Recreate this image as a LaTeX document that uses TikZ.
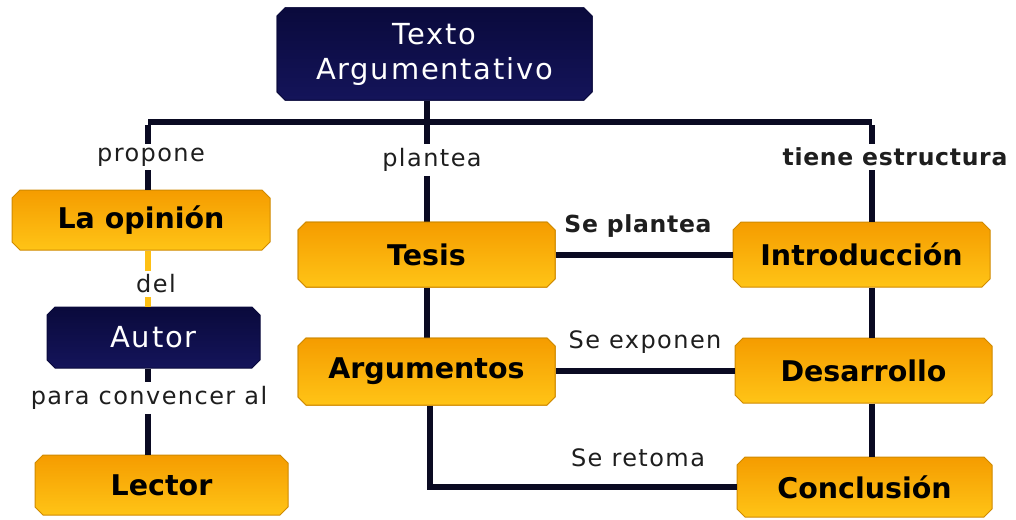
\documentclass[tikz,border=0pt]{standalone}
\usepackage{fontspec}
\setmainfont{DejaVu Sans}
\usetikzlibrary{shapes.misc}
\definecolor{navy}{HTML}{0A0A3C}
\definecolor{navyb}{HTML}{14145A}
\definecolor{linec}{HTML}{0A0A22}
\definecolor{orT}{HTML}{F59C00}
\definecolor{orB}{HTML}{FFC416}
\definecolor{orD}{HTML}{D08A00}
\definecolor{lblc}{HTML}{1E1E1E}
\tikzset{
  x=1pt, y=-1pt,
  obox/.style={chamfered rectangle, chamfered rectangle xsep=4pt, chamfered rectangle ysep=4pt,
    top color=orT, bottom color=orB, draw=orD, line width=1pt, inner sep=0pt,
    font=\fontsize{28.5}{32}\selectfont\bfseries, text=black},
  nbox/.style={chamfered rectangle, chamfered rectangle xsep=4pt, chamfered rectangle ysep=4pt,
    top color=navy, bottom color=navyb, draw=navy, line width=1pt, inner sep=0pt,
    text=white, font=\fontsize{29}{35}\selectfont\addfontfeature{LetterSpace=6}, align=center},
  conn/.style={draw=linec, line width=6pt},
  oconn/.style={draw=orB!90!orT, line width=6pt},
  lbl/.style={font=\fontsize{24}{28}\selectfont\addfontfeature{LetterSpace=6}, text=lblc, inner sep=4pt},
  blbl/.style={font=\fontsize{23.5}{28}\selectfont\bfseries\addfontfeature{LetterSpace=3}, text=lblc, inner sep=4pt},
}
\begin{document}
\begin{tikzpicture}
\path[use as bounding box, fill=white] (0,0) rectangle (1016,519);
% boxes
\node[nbox, minimum width=315pt, minimum height=92pt] (texto) at (434.5,54) {Texto\\Argumentativo};
\node[obox, minimum width=258pt, minimum height=60pt] (opinion) at (141,220) {La opinión};
\node[nbox, minimum width=213pt, minimum height=61pt] (autor) at (153.5,337.5) {Autor};
\node[obox, minimum width=253pt, minimum height=60pt] (lector) at (161.5,485) {Lector};
\node[obox, minimum width=257pt, minimum height=65pt] (tesis) at (426.5,254.5) {Tesis};
\node[obox, minimum width=257pt, minimum height=67pt] (argum) at (426.5,371.5) {Argumentos};
\node[obox, minimum width=257pt, minimum height=65pt] (intro) at (861.5,254.5) {Introducción};
\node[obox, minimum width=257pt, minimum height=65pt] (desarr) at (863.5,370.5) {Desarrollo};
\node[obox, minimum width=255pt, minimum height=60pt] (concl) at (864.5,487) {Conclusión};
% labels
\node[lbl] (propone) at (151,157) {propone};
\node[lbl] (plantea) at (432,160) {plantea};
\node[blbl] (tiene) at (895,157) {tiene estructura};
\node[lbl] (del) at (156,284) {del};
\node[lbl] (para) at (149,398) {para convencer al};
\node[blbl] (seplantea) at (638,226) {Se plantea};
\node[lbl] (seexponen) at (645,342) {Se exponen};
\node[lbl] (seretoma) at (638,458) {Se retoma};
% junctions
\coordinate (jL) at (148,122);
\coordinate (jM) at (427,122);
\coordinate (jR) at (872,122);
\coordinate (aL) at (430,0);
% connectors
\path[conn] (jL) -- (jR);
\path[conn] (texto.south -| jM) -- (jM);
\path[conn] ([yshift=-3pt]jL) -- (propone.north -| jL);
\path[conn] (propone.south -| jL) -- (opinion.north -| jL);
\path[conn] (jM) -- (plantea.north -| jM);
\path[conn] (plantea.south -| jM) -- (tesis.north -| jM);
\path[conn] ([yshift=-3pt]jR) -- (tiene.north -| jR);
\path[conn] (tiene.south -| jR) -- (intro.north -| jR);
\path[oconn] (opinion.south -| jL) -- (del.north -| jL);
\path[oconn] (del.south -| jL) -- (autor.north -| jL);
\path[conn] (autor.south -| jL) -- (para.north -| jL);
\path[conn] (para.south -| jL) -- (lector.north -| jL);
\path[conn] (tesis.south -| jM) -- (argum.north -| jM);
\path[conn] (tesis.east) -- (intro.west);
\path[conn] (argum.east |- desarr.west) -- (desarr.west);
\path[conn] (intro.south -| jR) -- (desarr.north -| jR);
\path[conn] (desarr.south -| jR) -- (concl.north -| jR);
\path[conn] (argum.south -| aL) |- (concl.west);
% redraw boxes on top
\node[nbox, minimum width=315pt, minimum height=92pt] at (texto) {Texto\\Argumentativo};
\node[obox, minimum width=257pt, minimum height=65pt] at (tesis) {Tesis};
\node[obox, minimum width=257pt, minimum height=67pt] at (argum) {Argumentos};
\end{tikzpicture}
\end{document}
